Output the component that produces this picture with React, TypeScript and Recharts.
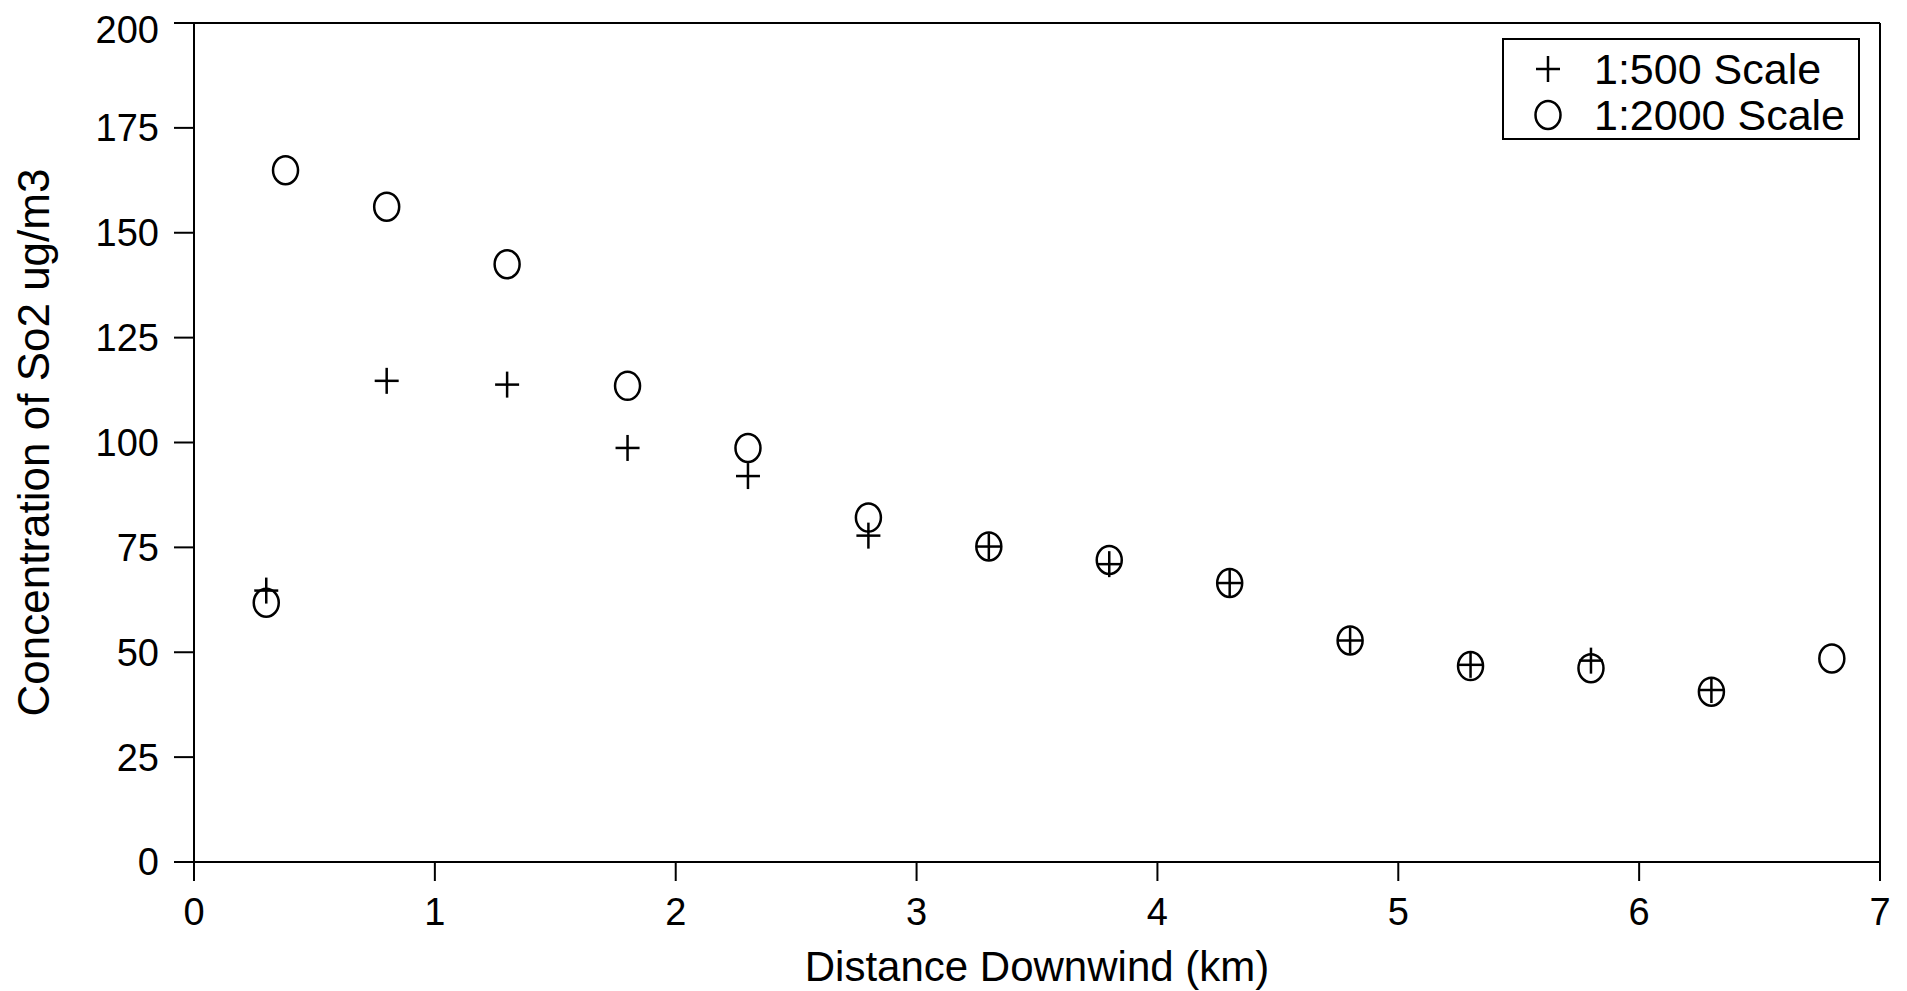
import React from "react";
import {
  ScatterChart,
  Scatter,
  XAxis,
  YAxis,
  Legend,
  ReferenceLine,
} from "recharts";

// distances (km) and SO2 concentrations
const scale500X = [0.3, 0.8, 1.3, 1.8, 2.3, 2.8, 3.3, 3.8, 4.3, 4.8, 5.3, 5.8, 6.3];
const scale500Y = [64.7, 114.7, 113.8, 98.7, 92.0, 77.8, 75.2, 71.0, 66.5, 52.8, 47.0, 48.0, 41.0];

const scale2000X = [0.3, 0.38, 0.8, 1.3, 1.8, 2.3, 2.8, 3.3, 3.8, 4.3, 4.8, 5.3, 5.8, 6.3, 6.8];
const scale2000Y = [61.8, 164.9, 156.2, 142.5, 113.5, 98.7, 82.1, 75.2, 72.0, 66.5, 52.8, 46.7, 46.2, 40.6, 48.5];

const xTicks = [0, 1, 2, 3, 4, 5, 6, 7];
const yTicks = [0, 25, 50, 75, 100, 125, 150, 175, 200];

const seriesNames = ["1:500 Scale", "1:2000 Scale"];

const data500 = scale500X.map((x, i) => ({ x, y: scale500Y[i] }));
const data2000 = scale2000X.map((x, i) => ({ x, y: scale2000Y[i] }));

const font = "'Liberation Sans', Arial, Helvetica, sans-serif";

const PlusShape = (props: any) => {
  const { cx, cy } = props;
  return (
    <g stroke="#000" strokeWidth={2.5}>
      <line x1={cx - 12} y1={cy} x2={cx + 12} y2={cy} />
      <line x1={cx} y1={cy - 13} x2={cx} y2={cy + 13} />
    </g>
  );
};

const CircleShape = (props: any) => {
  const { cx, cy } = props;
  return <ellipse cx={cx} cy={cy} rx={12.5} ry={14} fill="none" stroke="#000" strokeWidth={2.5} />;
};

const LegendBox = () => (
  <div
    style={{
      border: "2px solid #000",
      width: 354,
      height: 98,
      background: "#fff",
      fontFamily: font,
      fontSize: 43,
      color: "#000",
      boxSizing: "content-box",
    }}
  >
    {seriesNames.map((name, i) => (
      <div key={name} style={{ display: "flex", alignItems: "center", height: 46, marginTop: i === 0 ? 6 : 0 }}>
        <svg width={90} height={40} style={{ flexShrink: 0 }}>
          {i === 0 ? <PlusShape cx={44} cy={20} /> : <CircleShape cx={44} cy={20} />}
        </svg>
        <span style={{ lineHeight: "46px" }}>{name}</span>
      </div>
    ))}
  </div>
);

export default function App() {
  return (
    <div style={{ width: 1890, height: 983, background: "#fff" }}>
      <ScatterChart
        width={1890}
        height={983}
        margin={{ top: 15, right: 18, bottom: 0, left: 0 }}
      >
        <XAxis
          type="number"
          dataKey="x"
          domain={[0, 7]}
          ticks={xTicks}
          allowDataOverflow
          height={129}
          tickSize={19}
          tickMargin={17}
          axisLine={{ stroke: "#000", strokeWidth: 2 }}
          tickLine={{ stroke: "#000", strokeWidth: 2 }}
          tick={{ fill: "#000", fontSize: 38, fontFamily: font }}
          label={{
            value: "Distance Downwind (km)",
            position: "insideBottom",
            offset: 10,
            style: { fill: "#000", fontSize: 42, fontFamily: font },
          }}
        />
        <YAxis
          type="number"
          dataKey="y"
          domain={[0, 200]}
          ticks={yTicks}
          allowDataOverflow
          width={186}
          tickSize={20}
          tickMargin={15}
          axisLine={{ stroke: "#000", strokeWidth: 2 }}
          tickLine={{ stroke: "#000", strokeWidth: 2 }}
          tick={{ fill: "#000", fontSize: 38, fontFamily: font }}
          label={{
            value: "Concentration of So2 ug/m3",
            angle: -90,
            position: "insideLeft",
            offset: 25,
            style: { fill: "#000", fontSize: 44, fontFamily: font, textAnchor: "middle" },
          }}
        />
        <ReferenceLine y={200} stroke="#000" strokeWidth={2} />
        <ReferenceLine x={7} stroke="#000" strokeWidth={2} />
        <Legend
          layout="horizontal"
          verticalAlign="middle"
          align="center"
          content={<LegendBox />}
          wrapperStyle={{ top: 30, left: 1494, width: 358, right: "auto" }}
        />
        <Scatter
          name={seriesNames[0]}
          data={data500}
          shape={<PlusShape />}
          isAnimationActive={false}
        />
        <Scatter
          name={seriesNames[1]}
          data={data2000}
          shape={<CircleShape />}
          isAnimationActive={false}
        />
      </ScatterChart>
    </div>
  );
}
